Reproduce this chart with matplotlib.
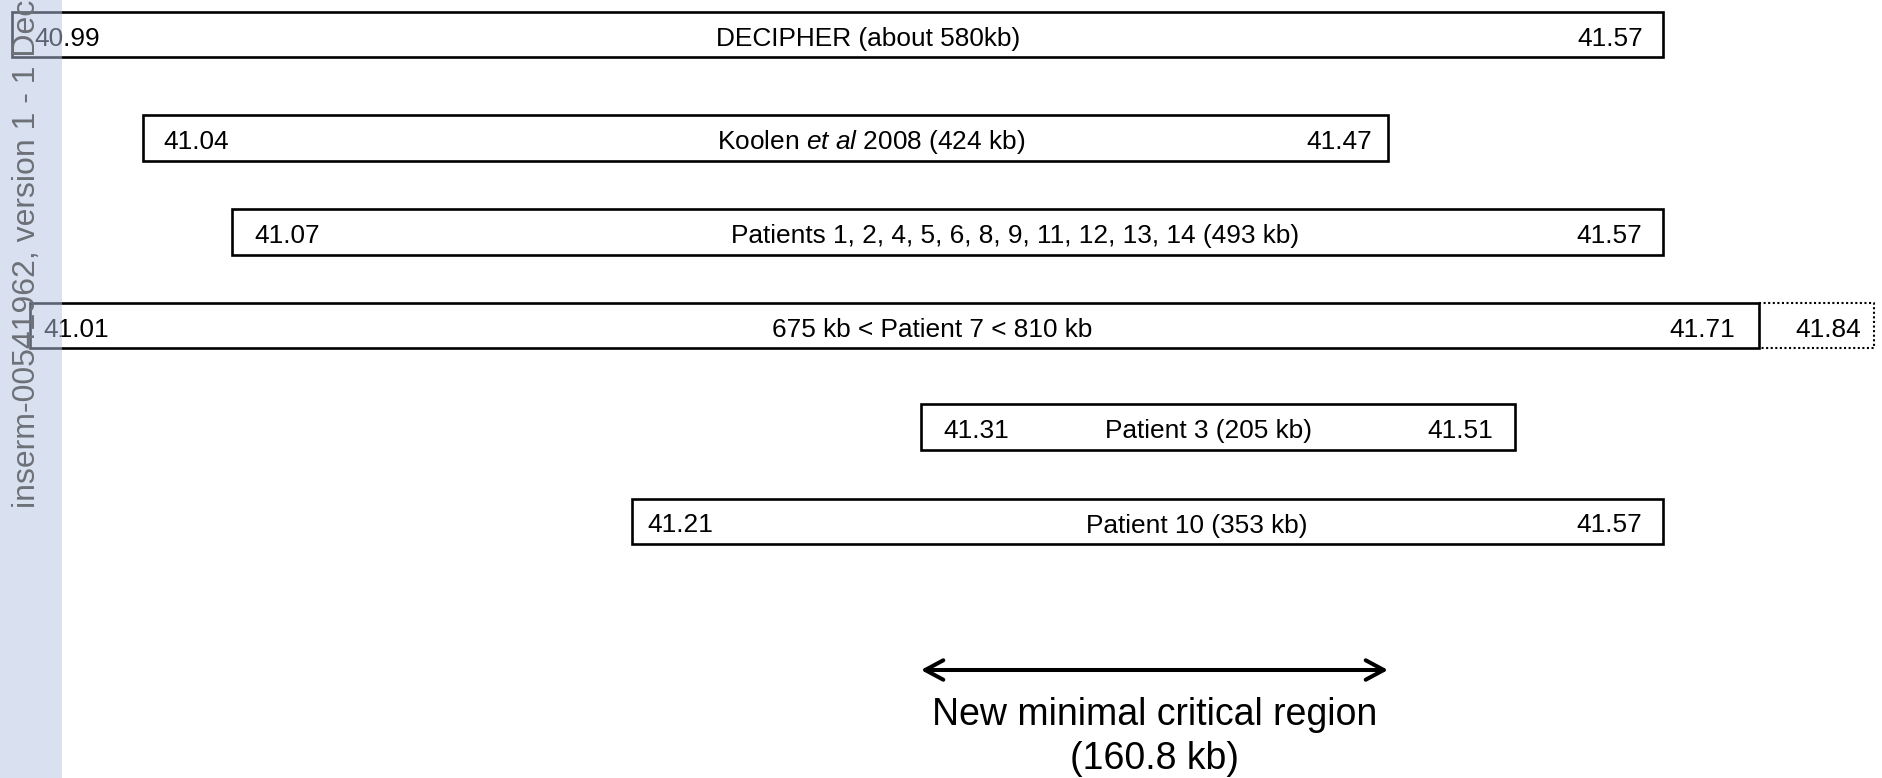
import matplotlib
matplotlib.use("Agg")
import matplotlib.pyplot as plt
import numpy as np
from matplotlib.patches import Rectangle
from matplotlib.transforms import blended_transform_factory

plt.rcParams['font.family'] = ['Liberation Sans', 'DejaVu Sans']
plt.rcParams['mathtext.fontset'] = 'custom'
plt.rcParams['mathtext.rm'] = 'Liberation Sans'
plt.rcParams['mathtext.it'] = 'Liberation Sans:italic'

# === data: deletion intervals (Mb, chr 17q21.31) ===
labels = [
    "DECIPHER (about 580kb)",
    "Koolen $\\mathit{et\\ al}$ 2008 (424 kb)",
    "Patients 1, 2, 4, 5, 6, 8, 9, 11, 12, 13, 14 (493 kb)",
    "675 kb < Patient 7 < 810 kb",
    "Patient 3 (205 kb)",
    "Patient 10 (353 kb)",
]
start_mb = [40.99, 41.04, 41.07, 41.01, 41.31, 41.21]
end_mb = [41.57, 41.47, 41.57, 41.71, 41.51, 41.57]
start_txt = ["40.99", "41.04", "41.07", "41.01", "41.31", "41.21"]
end_txt = ["41.57", "41.47", "41.57", "41.71", "41.51", "41.57"]

# patient 7 possible extension (dotted)
p7_row = 3
p7_max_mb = 41.84
p7_max_txt = "41.84"

# minimal critical region
crit_start = 41.31
crit_end = 41.47
crit_label = ["New minimal critical region", "(160.8 kb)"]

# === layout (schematic, not to scale) ===
W, H = 1883, 778
MB_KNOTS = [39.99, 40.99, 41.01, 41.04, 41.07, 41.21, 41.31, 41.47, 41.51, 41.57, 41.71, 41.84, 42.84]
PX_KNOTS = [-888, 12, 30, 143, 232, 632, 921, 1388, 1515, 1663, 1759, 1874, 2759]
row_y = [34.5, 138, 232, 325.5, 427, 521.5]   # px from top
BOX_H = 45.5
left_pad = [22, 20, 22, 13, 22, 15]      # px
right_pad = [20, 16, 21, 24, 22, 21]     # px
label_px = [868, 871, 1015, 932, 1209, 1197]
FS = 18.9
PX2PT = 0.72


def fwd(x):
    return np.interp(x, MB_KNOTS, PX_KNOTS)


def inv(x):
    return np.interp(x, PX_KNOTS, MB_KNOTS)


fig = plt.figure(figsize=(W / 100, H / 100), dpi=100)
ax = fig.add_axes([0, 0, 1, 1])
ax.set_xscale('function', functions=(fwd, inv))
ax.set_xlim(inv(0), inv(W))
ax.set_ylim(H, 0)
ax.axis('off')

base_off = -11 * PX2PT  # baseline a bit below box centre
label_tr = blended_transform_factory(fig.transFigure, ax.transData)

for i in range(len(labels)):
    y = row_y[i]
    ax.add_patch(Rectangle((start_mb[i], y - BOX_H / 2), end_mb[i] - start_mb[i], BOX_H,
                           fill=False, edgecolor='black', linewidth=1.9, zorder=2))
    ax.annotate(start_txt[i], xy=(start_mb[i], y), xytext=(left_pad[i] * PX2PT, base_off),
                textcoords='offset points', ha='left', va='baseline', fontsize=FS, zorder=3)
    ax.annotate(end_txt[i], xy=(end_mb[i], y), xytext=(-right_pad[i] * PX2PT, base_off),
                textcoords='offset points', ha='right', va='baseline', fontsize=FS, zorder=3)
    ax.annotate(labels[i], xy=(label_px[i] / W, y), xycoords=label_tr,
                xytext=(0, base_off), textcoords='offset points',
                ha='center', va='baseline', fontsize=FS, zorder=3)

# dotted extension of patient 7
y0, y1 = row_y[p7_row] - BOX_H / 2, row_y[p7_row] + BOX_H / 2
x0, x1 = end_mb[p7_row], p7_max_mb
ax.plot([x0, x1, x1, x0], [y0, y0, y1, y1], color='black', linewidth=1.5,
        linestyle=(0, (1, 1.2)), zorder=2)
ax.annotate(p7_max_txt, xy=(p7_max_mb, row_y[p7_row]), xytext=(-13 * PX2PT, base_off),
            textcoords='offset points', ha='right', va='baseline', fontsize=FS, zorder=3)

# critical region arrow
arrow_y = 670
ax.annotate("", xy=(crit_end, arrow_y), xytext=(crit_start, arrow_y),
            arrowprops=dict(arrowstyle='<->,head_length=0.65,head_width=0.35',
                            color='black', lw=2.9, shrinkA=0, shrinkB=0,
                            mutation_scale=20))
mid = inv((fwd(crit_start) + fwd(crit_end)) / 2)
ax.text(mid, 725, crit_label[0], ha='center', va='baseline', fontsize=27)
ax.text(mid, 769, crit_label[1], ha='center', va='baseline', fontsize=27)

# HAL watermark side bar
fig.patches.append(Rectangle((0, 0), 62 / W, 1, transform=fig.transFigure,
                             facecolor=(0.71, 0.77, 0.89), alpha=0.5, edgecolor='none', zorder=5))
fig.text(35 / W, (H - 508) / H, "inserm-00541962, version 1 - 1 Dec", rotation=90,
         rotation_mode='anchor', ha='left', va='baseline', fontsize=23,
         color='#6d7177', zorder=6)

fig.savefig("out.png", dpi=100)
